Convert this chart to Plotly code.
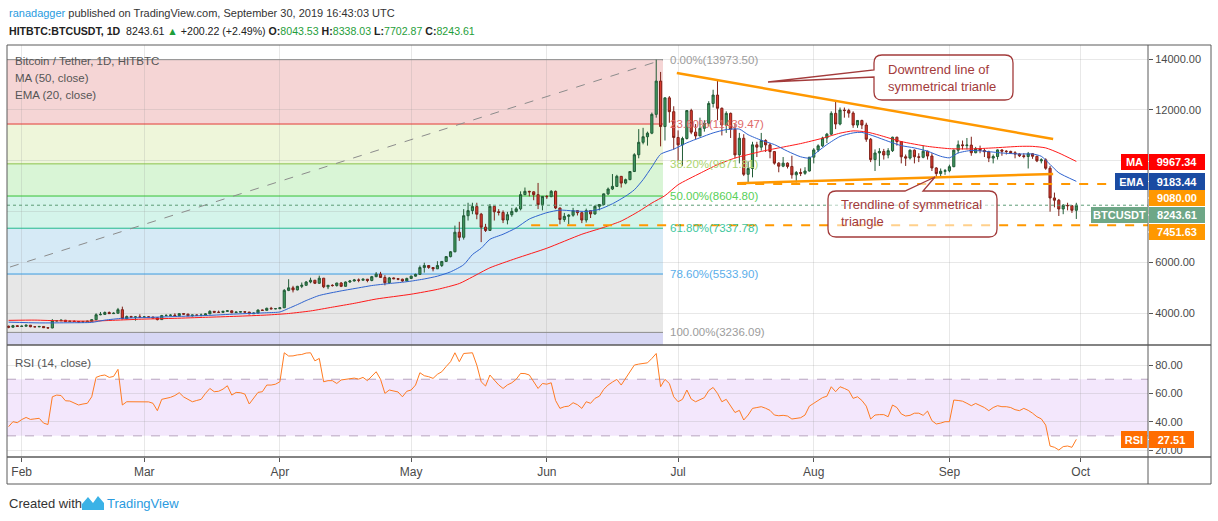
import pandas as pd
import plotly.graph_objects as go

# ---- values: HITBTC:BTCUSDT daily, 2019-01-29 .. 2019-09-30 ----
dates = pd.date_range("2019-01-29", "2019-09-30", freq="D")

open_ = [
    3480, 3440, 3500,
    3470, 3480, 3520, 3460, 3455, 3470, 3420, 3410, 3690, 3695, 3715, 3665, 3675, 3665, 3645, 3655, 3675, 3735,
    3930, 3945, 4020, 3975, 3990, 4130, 3770, 3860, 3835, 3845,
    3835, 3845, 3840, 3810, 3740, 3900, 3905, 3915, 3895, 3975, 3955, 3895, 3920, 3910, 3915, 3965, 4065, 4030,
    4025, 4065, 4085, 4015, 4035, 4050, 4035, 3970, 3995, 4115, 4105, 4185, 4165,
    4170, 4205, 4890, 4990, 4910, 5050, 5090, 5220, 5290, 5170, 5370, 5030, 5090, 5080, 5180, 5050, 5220, 5260,
    5300, 5290, 5330, 5280, 5430, 5530, 5400, 5190, 5380, 5350, 5330, 5260,
    5360, 5450, 5520, 5790, 5870, 5790, 5740, 5870, 6030, 6220, 6410, 7180, 6980, 7830, 8030, 8190, 7890, 7380,
    7250, 8200, 7985, 7960, 7660, 7870, 8000, 8100, 8660, 8790, 8770, 8660, 8265,
    8590, 8580, 8790, 8135, 7680, 7805, 7850, 8030, 7950, 7660, 8030, 7900, 8200, 8270, 8690, 8880, 8985, 9380,
    9115, 9250, 9570, 10230, 10720, 10940, 11080, 11820, 13130, 11340, 12470, 11925,
    10910, 10620, 10870, 11970, 11120, 10970, 11270, 11470, 12250, 12580, 12060, 11400, 11860, 11235, 10225,
    10880, 9460, 9690, 10620, 10530, 10790, 10620, 10355, 9900, 9780, 9900, 9770, 9440, 9530, 9500, 9590,
    10135, 10420, 10580, 10890, 11040, 11860, 11440, 11990, 11970, 11870, 11400, 11580, 11400, 10840, 10040,
    10300, 10360, 10220, 10390, 10920, 10750, 10150, 10100, 10410, 10150, 10130, 10370, 10180, 9710, 9490, 9580,
    9600, 9760, 10410, 10620, 10590, 10610, 10310, 10470, 10400, 10350, 10100, 10160, 10420, 10370, 10360,
    10310, 10260, 10190, 10160, 10270, 10170, 9990, 10030, 9700, 8530, 8440, 8095, 8240, 8225, 8043.53,
]
high = [
    3500, 3530, 3520,
    3510, 3535, 3525, 3480, 3490, 3480, 3440, 3760, 3720, 3740, 3725, 3700, 3710, 3680, 3690, 3700, 3760, 3990,
    4040, 4060, 4060, 4030, 4200, 4250, 3900, 3890, 3880, 3950,
    3880, 3870, 3855, 3830, 3925, 3950, 3950, 3990, 3995, 3990, 3970, 3935, 3935, 3980, 3990, 4110, 4075, 4095,
    4080, 4110, 4100, 4060, 4070, 4060, 4045, 4020, 4140, 4130, 4210, 4240, 4190,
    4230, 4940, 5330, 5070, 5070, 5200, 5260, 5390, 5300, 5470, 5380, 5100, 5130, 5190, 5220, 5240, 5300, 5340,
    5360, 5360, 5340, 5460, 5610, 5620, 5490, 5420, 5400, 5370, 5350, 5390,
    5470, 5550, 5870, 5980, 5880, 5810, 6040, 6040, 6240, 6440, 7440, 7590, 8090, 8340, 8340, 8340, 7940, 7510,
    8290, 8210, 8090, 8040, 7980, 8140, 8170, 8790, 8940, 8810, 8790, 9120, 8600,
    8640, 8840, 8820, 8140, 7940, 7890, 8140, 8040, 7970, 8110, 8040, 8240, 8290, 8700, 8940, 9470, 9440, 9390,
    9290, 9590, 10290, 11240, 11290, 11140, 11890, 13973.5, 13490, 12490, 12540, 12140,
    11190, 10940, 11990, 12040, 11440, 11690, 11590, 12340, 12790, 13170, 12090, 11940, 11890, 11440, 11090,
    11040, 9970, 10740, 10740, 11090, 10840, 10690, 10370, 9940, 10140, 9930, 10190, 9590, 9690, 9740, 10140,
    10490, 10640, 10940, 11090, 11940, 12360, 12090, 12090, 12040, 11940, 11590, 11610, 11490, 10890, 10440,
    10490, 10460, 10490, 10940, 10940, 10760, 10240, 10440, 10440, 10290, 10590, 10390, 10290, 9740, 9690, 9670,
    9840, 10440, 10790, 10790, 10890, 10940, 10540, 10590, 10470, 10390, 10240, 10440, 10440, 10410, 10390,
    10370, 10290, 10290, 10340, 10290, 10190, 10090, 10090, 9790, 8740, 8490, 8290, 8340, 8240, 8338.03,
]
low = [
    3400, 3430, 3455,
    3450, 3465, 3440, 3440, 3440, 3410, 3395, 3400, 3665, 3680, 3650, 3640, 3650, 3630, 3635, 3650, 3665, 3725,
    3910, 3930, 3960, 3970, 3985, 3760, 3760, 3820, 3700, 3820,
    3825, 3820, 3790, 3710, 3730, 3870, 3890, 3860, 3890, 3930, 3870, 3860, 3890, 3870, 3905, 3955, 4010, 4000,
    4015, 4040, 3990, 4005, 4025, 4020, 3950, 3960, 3985, 4080, 4095, 4140, 4150,
    4150, 4195, 4860, 4810, 4890, 4980, 5080, 5170, 5140, 5150, 4980, 4940, 5040, 5040, 5020, 5040, 5190, 5240,
    5210, 5280, 5210, 5250, 5410, 5380, 5090, 5140, 5330, 5290, 5230, 5240,
    5350, 5430, 5500, 5590, 5740, 5640, 5730, 5810, 6020, 6190, 6390, 6840, 6890, 7640, 7890, 7690, 6790, 7190,
    7240, 7640, 7840, 7540, 7490, 7790, 7960, 8040, 8640, 8590, 8440, 8090, 8040,
    8490, 8560, 8090, 7490, 7590, 7490, 7790, 7840, 7540, 7560, 7740, 7870, 8040, 8240, 8640, 8840, 8980, 8940,
    9070, 9230, 9550, 10090, 10640, 10590, 11040, 11690, 10560, 10790, 11490, 10430,
    9990, 9790, 10830, 11040, 10840, 10960, 11140, 11340, 12090, 11590, 10990, 11090, 10890, 10090, 9890,
    9390, 9090, 9340, 10140, 10390, 10340, 10090, 9840, 9540, 9740, 9690, 9290, 9140, 9390, 9440, 9570,
    9890, 10340, 10540, 10690, 10990, 11240, 11390, 11690, 11690, 11290, 11290, 11240, 10740, 9940, 9590,
    9790, 10040, 10090, 10340, 10590, 9890, 9790, 10040, 9890, 9940, 10090, 10040, 9590, 9340, 9390, 9440,
    9540, 9740, 10290, 10440, 10440, 10190, 10290, 10290, 10140, 9940, 9890, 10040, 10190, 10240, 10270,
    10090, 10140, 10090, 9690, 10070, 9940, 9890, 9640, 7990, 8160, 7820, 7890, 8040, 7940, 7702.87,
]
close = [
    3440, 3500, 3470,
    3480, 3520, 3460, 3455, 3470, 3420, 3410, 3690, 3695, 3715, 3665, 3675, 3665, 3645, 3655, 3675, 3735, 3930,
    3945, 4020, 3975, 3990, 4130, 3770, 3860, 3835, 3845, 3835,
    3845, 3840, 3810, 3740, 3900, 3905, 3915, 3895, 3975, 3955, 3895, 3920, 3910, 3915, 3965, 4065, 4030, 4025,
    4065, 4085, 4015, 4035, 4050, 4035, 3970, 3995, 4115, 4105, 4185, 4165, 4170,
    4205, 4890, 4990, 4910, 5050, 5090, 5220, 5290, 5170, 5370, 5030, 5090, 5080, 5180, 5050, 5220, 5260, 5300,
    5290, 5330, 5280, 5430, 5530, 5400, 5190, 5380, 5350, 5330, 5260, 5360,
    5450, 5520, 5790, 5870, 5790, 5740, 5870, 6030, 6220, 6410, 7180, 6980, 7830, 8030, 8190, 7890, 7380, 7250,
    8200, 7985, 7960, 7660, 7870, 8000, 8100, 8660, 8790, 8770, 8660, 8265, 8590,
    8580, 8790, 8135, 7680, 7805, 7850, 8030, 7950, 7660, 8030, 7900, 8200, 8270, 8690, 8880, 8985, 9380, 9115,
    9250, 9570, 10230, 10720, 10940, 11080, 11820, 13130, 11340, 12470, 11925, 10910,
    10620, 10870, 11970, 11120, 10970, 11270, 11470, 12250, 12580, 12060, 11400, 11860, 11235, 10225, 10880,
    9460, 9690, 10620, 10530, 10790, 10620, 10355, 9900, 9780, 9900, 9770, 9440, 9530, 9500, 9590, 10135,
    10420, 10580, 10890, 11040, 11860, 11440, 11990, 11970, 11870, 11400, 11580, 11400, 10840, 10040, 10300,
    10360, 10220, 10390, 10920, 10750, 10150, 10100, 10410, 10150, 10130, 10370, 10180, 9710, 9490, 9580, 9600,
    9760, 10410, 10620, 10590, 10610, 10310, 10470, 10400, 10350, 10100, 10160, 10420, 10370, 10360, 10310,
    10260, 10190, 10160, 10270, 10170, 9990, 10030, 9700, 8530, 8440, 8095, 8240, 8225, 8043.53, 8243.61,
]
rsi = [
    36.5, 40.0, 39.3,
    41.5, 43.0, 41.6, 42.0, 42.4, 39.0, 38.0, 57.6, 58.8, 58.5, 54.8, 54.6, 53.0, 51.8, 52.5, 53.0, 57.6, 71.3,
    72.5, 73.0, 71.3, 72.0, 77.0, 51.8, 54.1, 54.0, 54.1, 54.2,
    54.1, 54.0, 53.0, 47.8, 55.8, 56.5, 57.2, 58.5, 60.5, 57.5, 55.5, 54.1, 55.0, 55.8, 60.0, 63.5, 61.2, 61.5,
    63.0, 65.4, 58.8, 60.7, 60.5, 59.5, 52.5, 57.0, 60.7, 61.2, 65.9, 65.9, 66.5,
    68.2, 88.7, 86.4, 86.5, 87.2, 87.5, 88.5, 88.7, 83.0, 84.7, 68.2, 69.0, 69.0, 67.0, 69.5, 70.0, 70.6, 70.8,
    70.1, 71.3, 69.0, 72.0, 75.3, 70.0, 60.0, 62.4, 61.5, 61.0, 57.6, 61.5,
    62.4, 65.9, 74.6, 72.5, 71.8, 70.6, 73.5, 75.3, 79.0, 82.4, 88.7, 82.4, 88.2, 88.5, 88.7, 80.0, 68.2, 65.2,
    73.0, 69.4, 66.0, 63.5, 66.0, 67.5, 70.0, 74.1, 74.0, 73.0, 68.0, 63.5, 67.0,
    66.5, 67.5, 55.0, 49.4, 50.6, 51.0, 53.4, 52.0, 49.4, 54.1, 53.0, 56.5, 58.0, 62.8, 65.9, 68.0, 69.9, 65.9,
    70.6, 75.3, 80.0, 80.7, 81.0, 81.6, 84.7, 88.2, 64.7, 69.9, 67.0, 57.6,
    54.1, 55.8, 62.4, 56.0, 54.1, 55.5, 57.0, 62.0, 64.2, 60.0, 54.1, 55.8, 51.5, 46.5, 48.0,
    41.2, 44.7, 49.4, 50.0, 50.6, 49.5, 48.0, 44.7, 44.2, 44.5, 44.0, 41.9, 42.4, 42.8, 44.7, 51.0,
    53.0, 55.3, 57.0, 58.0, 64.7, 61.2, 64.7, 63.5, 62.0, 56.5, 57.6, 55.0, 51.0, 41.9, 44.7,
    45.0, 45.0, 43.5, 51.8, 50.0, 45.5, 44.0, 44.5, 46.0, 46.0, 44.5, 47.5, 40.7, 38.4, 39.0, 40.0,
    40.0, 55.3, 55.0, 54.5, 53.0, 51.3, 52.9, 51.5, 50.0, 47.8, 50.0, 51.3, 50.6, 50.6, 50.0,
    48.5, 47.8, 49.4, 48.0, 46.0, 43.5, 42.0, 37.6, 22.8, 21.9, 20.0, 22.4, 22.8, 21.9, 27.51,
]
assert len(open_) == len(high) == len(low) == len(close) == len(rsi) == len(dates)

# MA (50) and EMA (20) lines, read at points along the curves
ma_dates = ["2019-01-29", "2019-02-04", "2019-02-10", "2019-02-17", "2019-02-23", "2019-03-01", "2019-03-08",
            "2019-03-15", "2019-03-22", "2019-03-29", "2019-04-03", "2019-04-08", "2019-04-13", "2019-04-18",
            "2019-04-23", "2019-05-01", "2019-05-07", "2019-05-12", "2019-05-15", "2019-05-19", "2019-05-25",
            "2019-06-01", "2019-06-09", "2019-06-14", "2019-06-18", "2019-06-22", "2019-06-25", "2019-06-28",
            "2019-07-01", "2019-07-06", "2019-07-10", "2019-07-14", "2019-07-20", "2019-07-24", "2019-07-29",
            "2019-08-03", "2019-08-07", "2019-08-10", "2019-08-13", "2019-08-16", "2019-08-21", "2019-08-27",
            "2019-09-01", "2019-09-06", "2019-09-11", "2019-09-17", "2019-09-20", "2019-09-23", "2019-09-26",
            "2019-09-30"]
ma_vals = [3710, 3720, 3690, 3680, 3720, 3760, 3790, 3830, 3870, 3920, 3980, 4080, 4230, 4380, 4550, 4740,
           4930, 5160, 5420, 5780, 6150, 6550, 7100, 7370, 7620, 8000, 8330, 8620, 9050, 9500, 9840, 10100,
           10360, 10500, 10670, 10880, 11080, 11170, 11130, 11000, 10750, 10560, 10470, 10460, 10500, 10560,
           10560, 10500, 10300, 9967.34]

ema_dates = ["2019-01-29", "2019-02-05", "2019-02-12", "2019-02-17", "2019-02-20", "2019-02-24", "2019-03-01",
             "2019-03-08", "2019-03-15", "2019-03-22", "2019-03-29", "2019-04-01", "2019-04-03", "2019-04-05",
             "2019-04-07", "2019-04-10", "2019-04-15", "2019-04-19", "2019-04-22", "2019-04-26", "2019-04-29",
             "2019-05-01", "2019-05-04", "2019-05-07", "2019-05-10", "2019-05-13", "2019-05-15", "2019-05-17",
             "2019-05-19", "2019-05-22", "2019-05-25", "2019-05-28", "2019-06-01", "2019-06-04", "2019-06-07",
             "2019-06-10", "2019-06-13", "2019-06-16", "2019-06-19", "2019-06-21", "2019-06-23", "2019-06-25",
             "2019-06-27", "2019-06-30", "2019-07-03", "2019-07-06", "2019-07-09", "2019-07-12", "2019-07-15",
             "2019-07-17", "2019-07-20", "2019-07-23", "2019-07-26", "2019-07-29", "2019-07-31", "2019-08-02",
             "2019-08-04", "2019-08-07", "2019-08-10", "2019-08-12", "2019-08-15", "2019-08-18", "2019-08-21",
             "2019-08-24", "2019-08-27", "2019-08-30", "2019-09-01", "2019-09-03", "2019-09-06", "2019-09-09",
             "2019-09-13", "2019-09-17", "2019-09-20", "2019-09-22", "2019-09-24", "2019-09-26", "2019-09-30"]
ema_vals = [3640, 3610, 3615, 3630, 3720, 3790, 3820, 3860, 3900, 3960, 4010, 4040, 4180, 4330, 4490, 4690,
            4870, 4990, 5080, 5160, 5210, 5255, 5340, 5450, 5620, 5900, 6300, 6550, 6900, 7100, 7350, 7700,
            7950, 8050, 8020, 8000, 8080, 8300, 8600, 8850, 9250, 9750, 10250, 10450, 10700, 10900, 11090,
            11220, 11240, 11020, 10800, 10630, 10370, 10150, 10100, 10370, 10630, 10950, 11090, 11110, 10950,
            10760, 10590, 10500, 10370, 10170, 10110, 10300, 10400, 10370, 10300, 10260, 10260, 10170, 9850,
            9520, 9183.44]

# Fibonacci retracement drawn from the Dec 2018 low to the June 2019 high
fib_start = ("2018-12-13 07:00", 3236.09)
fib_end = ("2019-06-27 13:00", 13973.50)
fib_ratios = [0.0, 0.236, 0.382, 0.5, 0.618, 0.786, 1.0]
fib_levels = [13973.50, 11439.47, 9871.81, 8604.80, 7337.78, 5533.90, 3236.09]

# drawn trend lines and horizontal levels
down_trend = [("2019-06-30 17:00", 13450), ("2019-09-24 17:00", 10850)]
up_trend = [("2019-07-14 12:00", 9106), ("2019-09-24 17:00", 9472)]
levels = [("2019-07-14 12:00", 9080.00), ("2019-05-28 10:00", 7451.63)]

month_ticks = ["2019-02-01", "2019-03-01", "2019-04-01", "2019-05-01", "2019-06-01", "2019-07-01",
               "2019-08-01", "2019-09-01", "2019-10-01"]
month_labels = ["Feb", "Mar", "Apr", "May", "Jun", "Jul", "Aug", "Sep", "Oct"]
price_ticks = [4000, 6000, 8000, 10000, 12000, 14000]
price_shown = [4000, 6000, 12000, 14000]
rsi_ticks = [20, 40, 60, 80]

# ---- layout helpers (pixel -> paper) ----
W, H = 1218, 521
X0, X1, Y0, Y1, SPLIT = 7, 1148, 45, 457, 345
RIGHT, BOTTOM = 1211, 484
FONT = "Liberation Sans"
GRID = "rgba(150,150,150,0.22)"
FRAME = "#5a5a5a"
XR = ["2019-01-28 15:23", "2019-10-16 09:07"]


def fx(p):
    return (p - X0) / (X1 - X0)


def fy(p):
    return (Y1 - p) / (Y1 - Y0)


def pp(x, y):
    return f"{fx(x):.5f},{fy(y):.5f}"


fig = go.Figure()
fig.add_trace(go.Candlestick(
    x=dates, open=open_, high=high, low=low, close=close, xaxis="x", yaxis="y",
    increasing=dict(line=dict(color="#225c37", width=1), fillcolor="#3f9a60"),
    decreasing=dict(line=dict(color="#7e2018", width=1), fillcolor="#dd3a2e"),
    whiskerwidth=0, hoverinfo="skip", showlegend=False))
fig.add_trace(go.Scatter(x=ma_dates, y=ma_vals, mode="lines", xaxis="x", yaxis="y",
                         line=dict(color="#ff1a1a", width=1, shape="spline", smoothing=0.6), hoverinfo="skip"))
fig.add_trace(go.Scatter(x=ema_dates, y=ema_vals, mode="lines", xaxis="x", yaxis="y",
                         line=dict(color="#2f63cf", width=1, shape="spline", smoothing=0.6), hoverinfo="skip"))
fig.add_trace(go.Scatter(x=dates, y=rsi, mode="lines", xaxis="x2", yaxis="y2",
                         line=dict(color="#ff7b22", width=1), hoverinfo="skip"))

shapes = []
annotations = []

# fib zones + lines + labels
zone_colors = ["#f5d5d5", "#eef6da", "#d9f5d6", "#d4f4ea", "#d6eaf6", "#e7e7e7"]
line_colors = ["#8c8c8c", "#e23b36", "#8bc34a", "#35c235", "#21b98c", "#3a9be0", "#8c8c8c"]
label_colors = ["#9c9c9c", "#e06a6a", "#acd46e", "#58d058", "#40c79e", "#5aaeea", "#9c9c9c"]
for i in range(len(fib_levels) - 1):
    shapes.append(dict(type="rect", xref="x", yref="y", x0=fib_start[0], x1=fib_end[0],
                       y0=fib_levels[i], y1=fib_levels[i + 1], fillcolor=zone_colors[i],
                       line=dict(width=0), layer="below"))
shapes.append(dict(type="rect", xref="x", yref="y", x0=fib_start[0], x1=fib_end[0],
                   y0=fib_levels[-1], y1=1000, fillcolor="#d7d7f4", line=dict(width=0), layer="below"))
for lvl, r, c, lc in zip(fib_levels, fib_ratios, line_colors, label_colors):
    shapes.append(dict(type="line", xref="x", yref="y", x0=fib_start[0], x1=fib_end[0], y0=lvl, y1=lvl,
                       line=dict(color=c, width=1), layer="between"))
    annotations.append(dict(x="2019-06-28 16:00", y=lvl, xref="x", yref="y", xanchor="left", yanchor="middle",
                            text=f"{r * 100:.2f}%({lvl:.2f})", showarrow=False,
                            font=dict(family=FONT, size=11.5, color=lc)))
shapes.append(dict(type="line", xref="x", yref="y", x0=fib_start[0], y0=fib_start[1], x1=fib_end[0],
                   y1=fib_end[1], line=dict(color="#8c8c8c", width=1, dash="dash"), layer="between"))

# RSI band
shapes.append(dict(type="rect", xref="paper", yref="y2", x0=0, x1=1, y0=30, y1=70,
                   fillcolor="#f3e7fc", line=dict(width=0), layer="below"))
for v in (30, 70):
    shapes.append(dict(type="line", xref="paper", yref="y2", x0=0, x1=1, y0=v, y1=v,
                       line=dict(color="#b7a4bf", width=1, dash="dash"), layer="between"))

# current price dotted line
shapes.append(dict(type="line", xref="paper", yref="y", x0=0, x1=1, y0=close[-1], y1=close[-1],
                   line=dict(color="#5e9c76", width=1, dash="dot")))

# trend lines and levels
for seg in (down_trend, up_trend):
    shapes.append(dict(type="line", xref="x", yref="y", x0=seg[0][0], y0=seg[0][1], x1=seg[1][0], y1=seg[1][1],
                       line=dict(color="#ff9800", width=2.5)))
for start, lvl in levels:
    shapes.append(dict(type="line", xref="x", yref="y", x0=start, x1=XR[1], y0=lvl, y1=lvl,
                       line=dict(color="#ff9800", width=2, dash="dash")))

# callouts
CALL = "#a33b3b"
p1 = (f"M {pp(882, 55)} L {pp(1005, 55)} Q {pp(1013, 55)} {pp(1013, 63)} L {pp(1013, 92)} "
      f"Q {pp(1013, 100)} {pp(1005, 100)} L {pp(882, 100)} Q {pp(874, 100)} {pp(874, 92)} "
      f"L {pp(874, 77)} L {pp(768, 82)} L {pp(874, 70)} L {pp(874, 63)} Q {pp(874, 55)} {pp(882, 55)} Z")
p2 = (f"M {pp(836, 191)} L {pp(905, 191)} L {pp(935, 177)} L {pp(923, 191)} L {pp(989, 191)} "
      f"Q {pp(997, 191)} {pp(997, 199)} L {pp(997, 229)} Q {pp(997, 237)} {pp(989, 237)} L {pp(836, 237)} "
      f"Q {pp(828, 237)} {pp(828, 229)} L {pp(828, 199)} Q {pp(828, 191)} {pp(836, 191)} Z")
for p in (p1, p2):
    shapes.append(dict(type="path", xref="paper", yref="paper", path=p,
                       fillcolor="rgba(255,255,255,0.55)", line=dict(color=CALL, width=1.3)))
for txt, x, y in [("Downtrend line of<br>symmetrical trianle", 886, 77.5),
                  ("Trendline of symmetrical<br>triangle", 839, 213)]:
    annotations.append(dict(x=fx(x), y=fy(y), xref="paper", yref="paper", xanchor="left", yanchor="middle",
                            text=txt, showarrow=False, align="left",
                            font=dict(family=FONT, size=13, color=CALL)))

# frame
shapes += [
    dict(type="rect", xref="paper", yref="paper", x0=fx(X0), x1=fx(RIGHT), y0=fy(Y0), y1=fy(BOTTOM),
         line=dict(color=FRAME, width=1)),
    dict(type="line", xref="paper", yref="paper", x0=fx(X0), x1=fx(RIGHT), y0=fy(SPLIT), y1=fy(SPLIT),
         line=dict(color=FRAME, width=1.5)),
    dict(type="line", xref="paper", yref="paper", x0=fx(X0), x1=fx(RIGHT), y0=fy(Y1), y1=fy(Y1),
         line=dict(color=FRAME, width=1.5)),
    dict(type="line", xref="paper", yref="paper", x0=1, x1=1, y0=fy(BOTTOM), y1=fy(Y0),
         line=dict(color=FRAME, width=1)),
]


# price-scale labels
def tag(text, x0, x1, yc, color, h=16):
    annotations.append(dict(x=fx((x0 + x1) / 2), y=fy(yc), xref="paper", yref="paper", xanchor="center",
                            yanchor="middle", text=f"<b>{text}</b>", showarrow=False, bgcolor=color,
                            width=x1 - x0, height=h, borderpad=0, borderwidth=0,
                            font=dict(family=FONT, size=11, color="white")))


tag("MA", 1121, 1148, 161.5, "#ff0000")
tag(f"{ma_vals[-1]:.2f}", 1149, 1205, 161.5, "#ff0000")
tag("EMA", 1115, 1148, 181.5, "#1a4ba2", 17)
tag(f"{ema_vals[-1]:.2f}", 1149, 1205, 181.5, "#1a4ba2", 17)
tag(f"{levels[0][1]:.2f}", 1149, 1205, 198, "#ff9800")
tag("BTCUSDT", 1091, 1148, 215, "#6ea787")
tag(f"{close[-1]:.2f}", 1149, 1205, 215, "#6ea787")
tag(f"{levels[1][1]:.2f}", 1149, 1205, 232, "#ff9800")
tag("RSI", 1121, 1147, 439.5, "#ff6d00", 17)
tag(f"{rsi[-1]:.2f}", 1149, 1194, 439.5, "#ff6d00", 17)
for yc in (161.5, 181.5, 198, 215, 232, 439.5):
    shapes.append(dict(type="line", xref="paper", yref="paper", x0=1, x1=fx(1153), y0=fy(yc), y1=fy(yc),
                       line=dict(color="white", width=1)))

# texts
GREEN = "#1f9e3a"
annotations += [
    dict(x=0, y=fy(13), text="<span style='color:#2a9be0'>ranadagger</span> published on TradingView.com, "
                             "September 30, 2019 16:43:03 UTC",
         font=dict(family=FONT, size=11, color="#333")),
    dict(x=0, y=fy(31), text=f"<b>HITBTC:BTCUSDT, 1D</b>  {close[-1]:.2f} <span style='color:{GREEN}'>▲</span> "
                             f"+200.22 (+2.49%) <b>O:</b><span style='color:{GREEN}'>{open_[-1]:.2f}</span> "
                             f"<b>H:</b><span style='color:{GREEN}'>{high[-1]:.2f}</span> "
                             f"<b>L:</b><span style='color:{GREEN}'>{low[-1]:.2f}</span> "
                             f"<b>C:</b><span style='color:{GREEN}'>{close[-1]:.2f}</span>",
         font=dict(family=FONT, size=10.6, color="#222")),
    dict(x=fx(13), y=fy(61), text="Bitcoin / Tether, 1D, HITBTC", font=dict(family=FONT, size=11.5, color="#555")),
    dict(x=fx(13), y=fy(78), text="MA (50, close)", font=dict(family=FONT, size=11.5, color="#555")),
    dict(x=fx(13), y=fy(95), text="EMA (20, close)", font=dict(family=FONT, size=11.5, color="#555")),
    dict(x=fx(13), y=fy(363), text="RSI (14, close)", font=dict(family=FONT, size=11.5, color="#555")),
    dict(x=0, y=fy(503), text="Created with", font=dict(family=FONT, size=13, color="#333")),
    dict(x=fx(105), y=fy(503), text="TradingView", font=dict(family=FONT, size=13, color="#2a9be0")),
]
for a in annotations[-8:]:
    a.update(xref="paper", yref="paper", xanchor="left", yanchor="middle", showarrow=False)

# small logo
shapes.append(dict(type="path", xref="paper", yref="paper",
                   path=f"M {pp(82, 510)} L {pp(82, 504)} L {pp(88, 497)} L {pp(93, 503)} L {pp(98, 496)} "
                        f"L {pp(104, 503)} L {pp(104, 510)} Z",
                   fillcolor="#3bb2e6", line=dict(width=0)))

fig.update_layout(
    width=W, height=H, margin=dict(l=X0, r=W - X1, t=Y0, b=H - Y1),
    paper_bgcolor="white", plot_bgcolor="white", showlegend=False,
    font=dict(family=FONT, size=11, color="#4a4a4a"),
    shapes=shapes, annotations=annotations,
    xaxis=dict(domain=[0, 1], anchor="y", type="date", range=XR, matches="x2", showticklabels=False,
               tickvals=month_ticks, showgrid=True, gridcolor=GRID, zeroline=False, ticks="",
               rangeslider=dict(visible=False)),
    xaxis2=dict(domain=[0, 1], anchor="y2", type="date", range=XR, tickvals=month_ticks, ticktext=month_labels,
                showgrid=True, gridcolor=GRID, zeroline=False, ticks="outside", ticklen=4, tickcolor="#555",
                tickfont=dict(size=12, color="#4a4a4a")),
    yaxis=dict(domain=[fy(SPLIT), 1], anchor="x", side="right", range=[2740, 14551], tickvals=price_ticks,
               ticktext=[f"{v:.2f}" if v in price_shown else "" for v in price_ticks], showgrid=True,
               gridcolor=GRID, zeroline=False, ticks="outside", ticklen=4, tickcolor="#555",
               tickfont=dict(size=11, color="#4a4a4a")),
    yaxis2=dict(domain=[0, fy(SPLIT)], anchor="x2", side="right", range=[15.05, 94.2], tickvals=rsi_ticks,
                ticktext=[f"{v:.2f}" for v in rsi_ticks], showgrid=True, gridcolor=GRID, zeroline=False,
                ticks="outside", ticklen=4, tickcolor="#555", tickfont=dict(size=11, color="#4a4a4a")),
)

# the page's default body margin would shift the figure by 8px
fig.write_html("out.html", config={"displayModeBar": False},
               post_script="document.body.style.margin='0';")
